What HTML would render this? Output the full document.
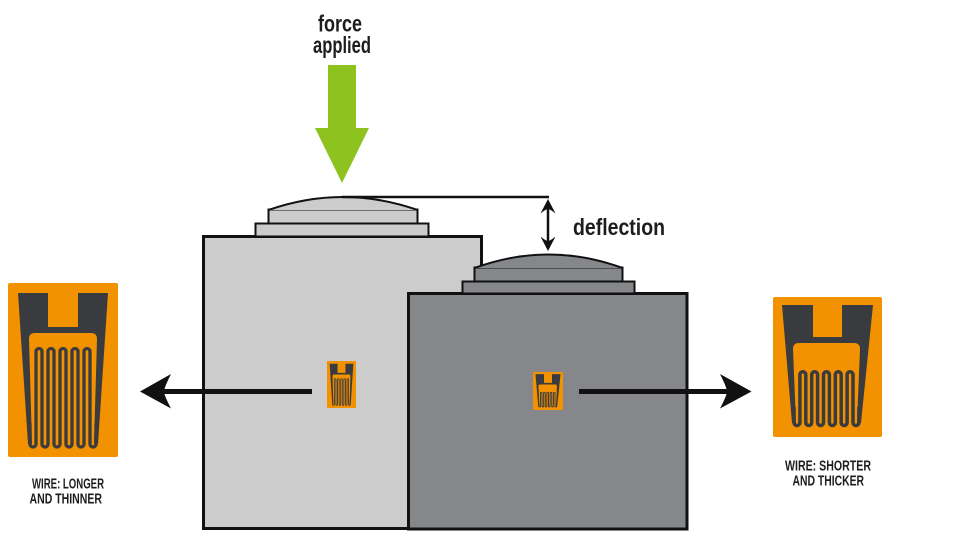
<!DOCTYPE html>
<html>
<head>
<meta charset="utf-8">
<style>
html,body{margin:0;padding:0;background:#fff;}
svg{display:block;}
text{font-family:"Liberation Sans Narrow","Liberation Sans",sans-serif;font-weight:bold;fill:#1e1c1d;}
</style>
</head>
<body>
<svg width="954" height="558" viewBox="0 0 954 558" xmlns="http://www.w3.org/2000/svg">
<defs>
  <symbol id="gL" viewBox="0 0 110 174" preserveAspectRatio="none">
    <rect x="0" y="0" width="110" height="174" rx="2" fill="#f39200"/>
    <path d="M10,10 H40 V44 H70 V10 H100 L90,161 L86,161 L89,56 Q89,50 83,50 H27 Q21,50 21,56 L24,161 L20,161 Z" fill="#3a3b3e"/>
    <path d="M22,140 L22,161 A3,3 0 0 0 28,161 L28,68.5 A3,3 0 0 1 34,68.5 L34,161 A3,3 0 0 0 40,161 L40,68.5 A3,3 0 0 1 46,68.5 L46,161 A3,3 0 0 0 52,161 L52,68.5 A3,3 0 0 1 58,68.5 L58,161 A3,3 0 0 0 64,161 L64,68.5 A3,3 0 0 1 70,68.5 L70,161 A3,3 0 0 0 76,161 L76,68.5 A3,3 0 0 1 82,68.5 L82,161 A3,3 0 0 0 88,161 L88,140" fill="none" stroke="#3a3b3e" stroke-width="3.3"/>
  </symbol>
  <symbol id="gS" viewBox="0 0 109 140" preserveAspectRatio="none">
    <rect x="0" y="0" width="109" height="140" rx="2" fill="#f39200"/>
    <path d="M9,8 H40 V40 H69 V8 H100 L88,126 L84,126 L87,52 Q87,46 81,46 H26 Q20,46 20,52 L23,126 L19,126 Z" fill="#3a3b3e"/>
    <path d="M21,110 L21,125.6 A2.95,2.95 0 0 0 26.9,125.6 L26.9,77.7 A2.95,2.95 0 0 1 32.8,77.7 L32.8,125.6 A2.95,2.95 0 0 0 38.7,125.6 L38.7,77.7 A2.95,2.95 0 0 1 44.6,77.7 L44.6,125.6 A2.95,2.95 0 0 0 50.5,125.6 L50.5,77.7 A2.95,2.95 0 0 1 56.4,77.7 L56.4,125.6 A2.95,2.95 0 0 0 62.3,125.6 L62.3,77.7 A2.95,2.95 0 0 1 68.2,77.7 L68.2,125.6 A2.95,2.95 0 0 0 74.1,125.6 L74.1,77.7 A2.95,2.95 0 0 1 80,77.7 L80,125.6 A2.95,2.95 0 0 0 85.9,125.6 L85.9,110" fill="none" stroke="#3a3b3e" stroke-width="3.5"/>
  </symbol>
</defs>

<!-- force applied text -->
<text x="318" y="31.5" font-size="23" textLength="44" lengthAdjust="spacingAndGlyphs">force</text>
<text x="313" y="53" font-size="23" textLength="58" lengthAdjust="spacingAndGlyphs">applied</text>

<!-- green arrow -->
<path d="M328,65 H356 V128 H369 L342,183 L315,128 H328 Z" fill="#8dc21f"/>

<!-- left block with steps and dome -->
<rect x="203.5" y="236.5" width="278" height="292" fill="#cccccc" stroke="#111" stroke-width="3"/>
<rect x="255.5" y="223.5" width="173" height="13" fill="#cccccc" stroke="#111" stroke-width="2"/>
<rect x="268.5" y="209.5" width="149" height="14" fill="#cccccc" stroke="#111" stroke-width="2"/>
<path d="M268.5,210 Q343,184 417.5,210 Z" fill="#cccccc"/>
<path d="M268.5,210 Q343,184 417.5,210" fill="none" stroke="#111" stroke-width="2"/>
<line x1="342" y1="197" x2="549" y2="197" stroke="#111" stroke-width="2.5"/>

<!-- right block with steps and dome -->
<rect x="408.5" y="293.5" width="278.5" height="235.5" fill="#85878a" stroke="#111" stroke-width="3"/>
<rect x="462.5" y="281.5" width="172" height="12" fill="#85878a" stroke="#111" stroke-width="2"/>
<rect x="474.5" y="267.5" width="148" height="14" fill="#85878a" stroke="#111" stroke-width="2"/>
<path d="M474.5,268 Q548.5,241 622.5,268 Z" fill="#85878a"/>
<path d="M474.5,268 Q548.5,241 622.5,268" fill="none" stroke="#111" stroke-width="2"/>

<!-- deflection double arrow -->
<line x1="548" y1="205" x2="548" y2="245" stroke="#111" stroke-width="2.5"/>
<path d="M548,199 L555.5,213.5 Q550,209 548,209 Q546,209 540.5,213.5 Z" fill="#111"/>
<path d="M548,251 L555.5,236.5 Q550,241 548,241 Q546,241 540.5,236.5 Z" fill="#111"/>
<text x="573" y="235" font-size="23" textLength="92" lengthAdjust="spacingAndGlyphs">deflection</text>

<!-- small gauges on blocks -->
<use href="#gL" x="327" y="361" width="29" height="47"/>
<use href="#gS" x="533" y="372" width="30" height="38"/>

<!-- left arrow -->
<line x1="160" y1="391.5" x2="312" y2="391.5" stroke="#111" stroke-width="5"/>
<path d="M140,391.5 L171,374 Q164,388 164,391.5 Q164,395 171,408.5 Z" fill="#111"/>

<!-- right arrow -->
<line x1="579" y1="391.5" x2="732" y2="391.5" stroke="#111" stroke-width="5"/>
<path d="M751.5,391.5 L720,374 Q727,388 727,391.5 Q727,395 720,408.5 Z" fill="#111"/>

<!-- big gauges -->
<use href="#gL" x="8" y="283" width="110" height="174"/>
<use href="#gS" x="773" y="297" width="109" height="140"/>

<!-- labels -->
<text x="32" y="488.5" font-size="14.5" textLength="72" lengthAdjust="spacingAndGlyphs">WIRE: LONGER</text>
<text x="29.5" y="503.5" font-size="14.5" textLength="72.5" lengthAdjust="spacingAndGlyphs">AND THINNER</text>
<text x="785" y="470.5" font-size="14.5" textLength="86" lengthAdjust="spacingAndGlyphs">WIRE: SHORTER</text>
<text x="792.5" y="485.5" font-size="14.5" textLength="71.5" lengthAdjust="spacingAndGlyphs">AND THICKER</text>
</svg>
</body>
</html>
